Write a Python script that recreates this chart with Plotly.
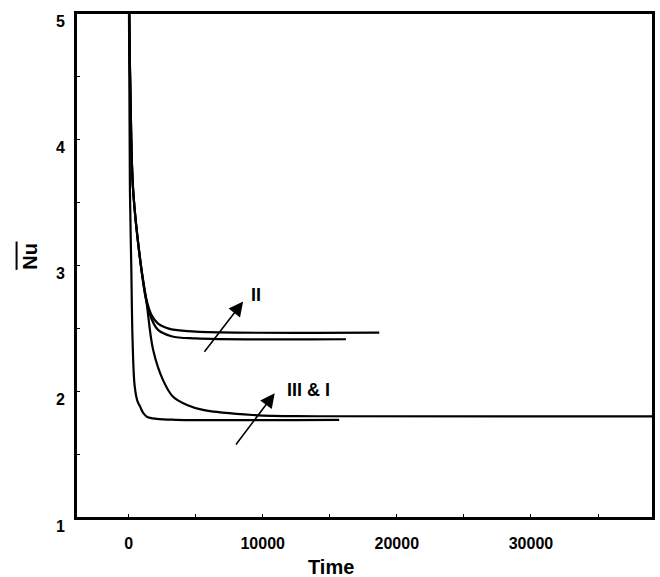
import plotly.graph_objects as go

# ---- data ----
t_I = [0, 100, 200, 300, 450, 650, 870, 1100, 1400, 2100, 3500, 15700]
nu_I = [5.6, 3.6, 3.0, 2.4, 2.05, 1.93, 1.88, 1.83, 1.80, 1.785, 1.778, 1.777]

t_III = [0, 50, 200, 350, 870, 1314, 1834, 2576, 3318, 4358, 5546, 9258, 14000, 40000]
nu_III = [5.6, 5.0, 4.0, 3.58, 3.04, 2.73, 2.33, 2.09, 1.96, 1.895, 1.856, 1.816, 1.806, 1.805]

t_IIa = [0, 50, 200, 350, 870, 1314, 1700, 2200, 3000, 4358, 6810, 18690]
nu_IIa = [5.6, 5.0, 4.0, 3.58, 3.04, 2.74, 2.61, 2.54, 2.50, 2.48, 2.47, 2.468]

t_IIb = [0, 50, 200, 350, 870, 1314, 1700, 2200, 3200, 5000, 16210]
nu_IIb = [5.6, 5.0, 4.0, 3.58, 3.04, 2.72, 2.58, 2.49, 2.44, 2.422, 2.416]

x_tickvals = [0, 10000, 20000, 30000]
y_tickvals = [1, 2, 3, 4, 5]

FONT = "Liberation Sans, Arial, sans-serif"

fig = go.Figure()
for t, nu in [(t_I, nu_I), (t_III, nu_III), (t_IIa, nu_IIa), (t_IIb, nu_IIb)]:
    fig.add_trace(go.Scatter(x=t, y=nu, mode="lines",
                             line=dict(color="black", width=2.2, shape="spline", smoothing=1),
                             showlegend=False, hoverinfo="skip"))

axis_common = dict(showline=True, linecolor="black", linewidth=2, mirror=True,
                   ticks="inside", ticklen=4, tickcolor="black", tickwidth=1,
                   showgrid=False, zeroline=False,
                   tickfont=dict(family=FONT, size=16, color="black", weight="bold"))

fig.update_xaxes(range=[-3920, 39100], tickvals=x_tickvals,
                 ticktext=[str(v) for v in x_tickvals],
                 minor=dict(dtick=5000, tick0=0, ticks="inside", ticklen=4, tickcolor="black"),
                 ticklabelstandoff=10,
                 **axis_common)
fig.update_yaxes(range=[1, 5], tickvals=y_tickvals,
                 ticktext=[str(v) for v in y_tickvals],
                 minor=dict(dtick=0.5, tick0=0, ticks="inside", ticklen=4, tickcolor="black"),
                 ticklabelshift=8, ticklabelstandoff=6,
                 **axis_common)

# frame
fig.add_shape(type="rect", xref="paper", yref="paper", x0=0, y0=0, x1=1, y1=1,
              line=dict(color="black", width=2), layer="above")

# arrows
arrow = dict(showarrow=True, arrowhead=2, arrowsize=1.8, arrowwidth=1.6, arrowcolor="black",
             axref="x", ayref="y", xref="x", yref="y", text="")
fig.add_annotation(x=8540, y=2.714, ax=5569, ay=2.305, **arrow)
fig.add_annotation(x=10893, y=1.988, ax=7923, ay=1.571, **arrow)

lbl_font = dict(family=FONT, size=18, color="black", weight="bold")
fig.add_annotation(x=9534, y=2.767, text="II", showarrow=False, font=lbl_font,
                   xanchor="center", yanchor="middle")
fig.add_annotation(x=13381, y=2.014, text="III &amp; I", showarrow=False, font=lbl_font,
                   xanchor="center", yanchor="middle")

# axis titles
title_font = dict(family=FONT, size=20, color="black", weight="bold")
fig.add_annotation(xref="paper", yref="paper", x=0.442, y=-0.097, text="Time",
                   showarrow=False, font=title_font, xanchor="center", yanchor="middle")
fig.add_annotation(xref="paper", yref="paper", x=-0.0799, y=0.519, text="Nu",
                   textangle=-90, showarrow=False, font=title_font,
                   xanchor="center", yanchor="middle")
fig.add_shape(type="line", xref="paper", yref="paper", x0=-0.103, x1=-0.103,
              y0=0.4914, y1=0.5475, line=dict(color="black", width=2))

fig.update_layout(width=660, height=577, margin=dict(l=76, r=5, t=13, b=59),
                  plot_bgcolor="white", paper_bgcolor="white")

fig.write_html("out.html")
